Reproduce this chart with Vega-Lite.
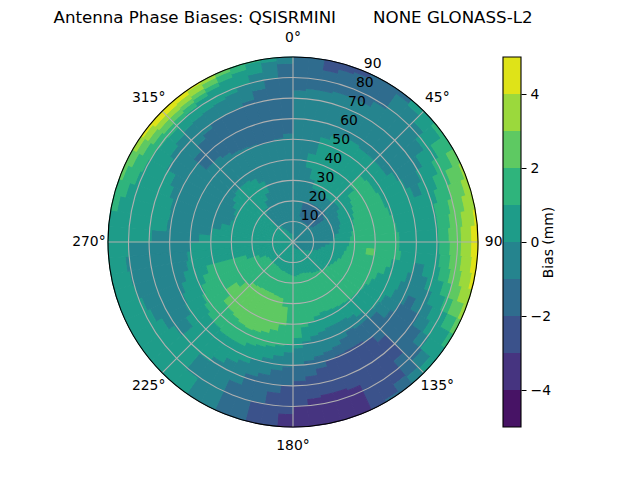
{"$schema":"https://vega.github.io/schema/vega-lite/v6.json","background":"white","padding":{"left":53,"top":10,"right":0,"bottom":0},"config":{"view":{"stroke":null},"font":"DejaVu Sans"},"bounds":"flush","spacing":25,"hconcat":[{"width":370,"height":370,"title":{"text":"Antenna Phase Biases: QSISRMINI\u00a0\u00a0\u00a0\u00a0\u00a0\u00a0\u00a0NONE GLONASS-L2","font":"DejaVu Sans","fontSize":16.67,"fontWeight":"normal","color":"black","anchor":"middle","offset":4},"layer":[{"data":{"values":[
{"a":0,"b":5,"r":0,"s":4,"v":0.5},{"a":0,"b":5,"r":4,"s":74,"v":-0.5},{"a":0,"b":5,"r":74,"s":90,"v":-1.5},
{"a":5,"b":10,"r":0,"s":75,"v":-0.5},{"a":5,"b":10,"r":75,"s":90,"v":-1.5},
{"a":10,"b":15,"r":0,"s":37,"v":-0.5},{"a":10,"b":15,"r":37,"s":44,"v":0.5},{"a":10,"b":15,"r":44,"s":75,"v":-0.5},{"a":10,"b":15,"r":75,"s":85,"v":-1.5},{"a":10,"b":15,"r":85,"s":90,"v":-2.5},
{"a":15,"b":20,"r":0,"s":13,"v":-0.5},{"a":15,"b":20,"r":13,"s":20,"v":-1.5},{"a":15,"b":20,"r":20,"s":32,"v":-0.5},{"a":15,"b":20,"r":32,"s":53,"v":0.5},{"a":15,"b":20,"r":53,"s":76,"v":-0.5},{"a":15,"b":20,"r":76,"s":87,"v":-1.5},{"a":15,"b":20,"r":87,"s":90,"v":-2.5},
{"a":20,"b":25,"r":0,"s":11,"v":-0.5},{"a":20,"b":25,"r":11,"s":21,"v":-1.5},{"a":20,"b":25,"r":21,"s":28,"v":-0.5},{"a":20,"b":25,"r":28,"s":55,"v":0.5},{"a":20,"b":25,"r":55,"s":76,"v":-0.5},{"a":20,"b":25,"r":76,"s":88,"v":-1.5},{"a":20,"b":25,"r":88,"s":90,"v":-2.5},
{"a":25,"b":30,"r":0,"s":11,"v":-0.5},{"a":25,"b":30,"r":11,"s":21,"v":-1.5},{"a":25,"b":30,"r":21,"s":28,"v":-0.5},{"a":25,"b":30,"r":28,"s":57,"v":0.5},{"a":25,"b":30,"r":57,"s":76,"v":-0.5},{"a":25,"b":30,"r":76,"s":90,"v":-1.5},
{"a":30,"b":35,"r":0,"s":11,"v":-0.5},{"a":30,"b":35,"r":11,"s":21,"v":-1.5},{"a":30,"b":35,"r":21,"s":28,"v":-0.5},{"a":30,"b":35,"r":28,"s":57,"v":0.5},{"a":30,"b":35,"r":57,"s":79,"v":-0.5},{"a":30,"b":35,"r":79,"s":90,"v":-1.5},
{"a":35,"b":40,"r":0,"s":11,"v":-0.5},{"a":35,"b":40,"r":11,"s":21,"v":-1.5},{"a":35,"b":40,"r":21,"s":27,"v":-0.5},{"a":35,"b":40,"r":27,"s":56,"v":0.5},{"a":35,"b":40,"r":56,"s":88,"v":-0.5},{"a":35,"b":40,"r":88,"s":90,"v":-1.5},
{"a":40,"b":45,"r":0,"s":11,"v":-0.5},{"a":40,"b":45,"r":11,"s":21,"v":-1.5},{"a":40,"b":45,"r":21,"s":27,"v":-0.5},{"a":40,"b":45,"r":27,"s":56,"v":0.5},{"a":40,"b":45,"r":56,"s":87,"v":-0.5},{"a":40,"b":45,"r":87,"s":90,"v":0.5},
{"a":45,"b":50,"r":0,"s":11,"v":-0.5},{"a":45,"b":50,"r":11,"s":21,"v":-1.5},{"a":45,"b":50,"r":21,"s":28,"v":-0.5},{"a":45,"b":50,"r":28,"s":39,"v":0.5},{"a":45,"b":50,"r":39,"s":46,"v":1.5},{"a":45,"b":50,"r":46,"s":56,"v":0.5},{"a":45,"b":50,"r":56,"s":83,"v":-0.5},{"a":45,"b":50,"r":83,"s":90,"v":0.5},
{"a":50,"b":55,"r":0,"s":12,"v":-0.5},{"a":50,"b":55,"r":12,"s":19,"v":-1.5},{"a":50,"b":55,"r":19,"s":28,"v":-0.5},{"a":50,"b":55,"r":28,"s":35,"v":0.5},{"a":50,"b":55,"r":35,"s":47,"v":1.5},{"a":50,"b":55,"r":47,"s":56,"v":0.5},{"a":50,"b":55,"r":56,"s":78,"v":-0.5},{"a":50,"b":55,"r":78,"s":88,"v":0.5},{"a":50,"b":55,"r":88,"s":90,"v":1.5},
{"a":55,"b":60,"r":0,"s":26,"v":-0.5},{"a":55,"b":60,"r":26,"s":34,"v":0.5},{"a":55,"b":60,"r":34,"s":47,"v":1.5},{"a":55,"b":60,"r":47,"s":59,"v":0.5},{"a":55,"b":60,"r":59,"s":73,"v":-0.5},{"a":55,"b":60,"r":73,"s":82,"v":0.5},{"a":55,"b":60,"r":82,"s":90,"v":1.5},
{"a":60,"b":65,"r":0,"s":25,"v":-0.5},{"a":60,"b":65,"r":25,"s":33,"v":0.5},{"a":60,"b":65,"r":33,"s":48,"v":1.5},{"a":60,"b":65,"r":48,"s":61,"v":0.5},{"a":60,"b":65,"r":61,"s":69,"v":-0.5},{"a":60,"b":65,"r":69,"s":78,"v":0.5},{"a":60,"b":65,"r":78,"s":86,"v":1.5},{"a":60,"b":65,"r":86,"s":90,"v":2.5},
{"a":65,"b":70,"r":0,"s":25,"v":-0.5},{"a":65,"b":70,"r":25,"s":32,"v":0.5},{"a":65,"b":70,"r":32,"s":48,"v":1.5},{"a":65,"b":70,"r":48,"s":63,"v":0.5},{"a":65,"b":70,"r":63,"s":67,"v":-0.5},{"a":65,"b":70,"r":67,"s":75,"v":0.5},{"a":65,"b":70,"r":75,"s":82,"v":1.5},{"a":65,"b":70,"r":82,"s":89,"v":2.5},{"a":65,"b":70,"r":89,"s":90,"v":3.5},
{"a":70,"b":75,"r":0,"s":24,"v":-0.5},{"a":70,"b":75,"r":24,"s":31,"v":0.5},{"a":70,"b":75,"r":31,"s":49,"v":1.5},{"a":70,"b":75,"r":49,"s":73,"v":0.5},{"a":70,"b":75,"r":73,"s":80,"v":1.5},{"a":70,"b":75,"r":80,"s":87,"v":2.5},{"a":70,"b":75,"r":87,"s":90,"v":3.5},
{"a":75,"b":80,"r":0,"s":23,"v":-0.5},{"a":75,"b":80,"r":23,"s":30,"v":0.5},{"a":75,"b":80,"r":30,"s":50,"v":1.5},{"a":75,"b":80,"r":50,"s":71,"v":0.5},{"a":75,"b":80,"r":71,"s":78,"v":1.5},{"a":75,"b":80,"r":78,"s":85,"v":2.5},{"a":75,"b":80,"r":85,"s":90,"v":3.5},
{"a":80,"b":85,"r":0,"s":21,"v":-0.5},{"a":80,"b":85,"r":21,"s":29,"v":0.5},{"a":80,"b":85,"r":29,"s":51,"v":1.5},{"a":80,"b":85,"r":51,"s":71,"v":0.5},{"a":80,"b":85,"r":71,"s":77,"v":1.5},{"a":80,"b":85,"r":77,"s":83,"v":2.5},{"a":80,"b":85,"r":83,"s":89,"v":3.5},{"a":80,"b":85,"r":89,"s":90,"v":4.5},
{"a":85,"b":90,"r":0,"s":20,"v":-0.5},{"a":85,"b":90,"r":20,"s":28,"v":0.5},{"a":85,"b":90,"r":28,"s":52,"v":1.5},{"a":85,"b":90,"r":52,"s":71,"v":0.5},{"a":85,"b":90,"r":71,"s":76,"v":1.5},{"a":85,"b":90,"r":76,"s":82,"v":2.5},{"a":85,"b":90,"r":82,"s":87,"v":3.5},{"a":85,"b":90,"r":87,"s":90,"v":4.5},
{"a":90,"b":95,"r":0,"s":18,"v":-0.5},{"a":90,"b":95,"r":18,"s":27.5,"v":0.5},{"a":90,"b":95,"r":27.5,"s":52,"v":1.5},{"a":90,"b":95,"r":52,"s":71.5,"v":0.5},{"a":90,"b":95,"r":71.5,"s":76.5,"v":1.5},{"a":90,"b":95,"r":76.5,"s":82,"v":2.5},{"a":90,"b":95,"r":82,"s":87,"v":3.5},{"a":90,"b":95,"r":87,"s":90,"v":4.5},
{"a":95,"b":100,"r":0,"s":16,"v":-0.5},{"a":95,"b":100,"r":16,"s":26.5,"v":0.5},{"a":95,"b":100,"r":26.5,"s":36,"v":1.5},{"a":95,"b":100,"r":36,"s":40,"v":2.5},{"a":95,"b":100,"r":40,"s":53,"v":1.5},{"a":95,"b":100,"r":53,"s":72,"v":0.5},{"a":95,"b":100,"r":72,"s":77,"v":1.5},{"a":95,"b":100,"r":77,"s":82.5,"v":2.5},{"a":95,"b":100,"r":82.5,"s":87.5,"v":3.5},{"a":95,"b":100,"r":87.5,"s":90,"v":4.5},
{"a":100,"b":105,"r":0,"s":14,"v":-0.5},{"a":100,"b":105,"r":14,"s":25.5,"v":0.5},{"a":100,"b":105,"r":25.5,"s":49,"v":1.5},{"a":100,"b":105,"r":49,"s":60,"v":0.5},{"a":100,"b":105,"r":60,"s":65,"v":-0.5},{"a":100,"b":105,"r":65,"s":73,"v":0.5},{"a":100,"b":105,"r":73,"s":78,"v":1.5},{"a":100,"b":105,"r":78,"s":83.5,"v":2.5},{"a":100,"b":105,"r":83.5,"s":88.5,"v":3.5},{"a":100,"b":105,"r":88.5,"s":90,"v":4.5},
{"a":105,"b":110,"r":0,"s":13,"v":-0.5},{"a":105,"b":110,"r":13,"s":25,"v":0.5},{"a":105,"b":110,"r":25,"s":47,"v":1.5},{"a":105,"b":110,"r":47,"s":58,"v":0.5},{"a":105,"b":110,"r":58,"s":68,"v":-0.5},{"a":105,"b":110,"r":68,"s":76,"v":0.5},{"a":105,"b":110,"r":76,"s":80,"v":1.5},{"a":105,"b":110,"r":80,"s":85,"v":2.5},{"a":105,"b":110,"r":85,"s":90,"v":3.5},
{"a":110,"b":115,"r":0,"s":11,"v":-0.5},{"a":110,"b":115,"r":11,"s":23.5,"v":0.5},{"a":110,"b":115,"r":23.5,"s":44,"v":1.5},{"a":110,"b":115,"r":44,"s":56,"v":0.5},{"a":110,"b":115,"r":56,"s":72,"v":-0.5},{"a":110,"b":115,"r":72,"s":79,"v":0.5},{"a":110,"b":115,"r":79,"s":83,"v":1.5},{"a":110,"b":115,"r":83,"s":88.5,"v":2.5},{"a":110,"b":115,"r":88.5,"s":90,"v":3.5},
{"a":115,"b":120,"r":0,"s":9.5,"v":-0.5},{"a":115,"b":120,"r":9.5,"s":22.5,"v":0.5},{"a":115,"b":120,"r":22.5,"s":42.5,"v":1.5},{"a":115,"b":120,"r":42.5,"s":55,"v":0.5},{"a":115,"b":120,"r":55,"s":62,"v":-0.5},{"a":115,"b":120,"r":62,"s":66,"v":-1.5},{"a":115,"b":120,"r":66,"s":75,"v":-0.5},{"a":115,"b":120,"r":75,"s":83,"v":0.5},{"a":115,"b":120,"r":83,"s":88,"v":1.5},{"a":115,"b":120,"r":88,"s":90,"v":2.5},
{"a":120,"b":125,"r":0,"s":8,"v":-0.5},{"a":120,"b":125,"r":8,"s":21.5,"v":0.5},{"a":120,"b":125,"r":21.5,"s":41,"v":1.5},{"a":120,"b":125,"r":41,"s":52,"v":0.5},{"a":120,"b":125,"r":52,"s":60,"v":-0.5},{"a":120,"b":125,"r":60,"s":71,"v":-1.5},{"a":120,"b":125,"r":71,"s":77,"v":-0.5},{"a":120,"b":125,"r":77,"s":88,"v":0.5},{"a":120,"b":125,"r":88,"s":90,"v":1.5},
{"a":125,"b":130,"r":0,"s":7,"v":-0.5},{"a":125,"b":130,"r":7,"s":20.5,"v":0.5},{"a":125,"b":130,"r":20.5,"s":40,"v":1.5},{"a":125,"b":130,"r":40,"s":51,"v":0.5},{"a":125,"b":130,"r":51,"s":58,"v":-0.5},{"a":125,"b":130,"r":58,"s":76,"v":-1.5},{"a":125,"b":130,"r":76,"s":81,"v":-0.5},{"a":125,"b":130,"r":81,"s":90,"v":0.5},
{"a":130,"b":135,"r":0,"s":6,"v":-0.5},{"a":130,"b":135,"r":6,"s":20,"v":0.5},{"a":130,"b":135,"r":20,"s":39.5,"v":1.5},{"a":130,"b":135,"r":39.5,"s":50,"v":0.5},{"a":130,"b":135,"r":50,"s":53,"v":-0.5},{"a":130,"b":135,"r":53,"s":82,"v":-1.5},{"a":130,"b":135,"r":82,"s":87,"v":-0.5},{"a":130,"b":135,"r":87,"s":90,"v":0.5},
{"a":135,"b":140,"r":0,"s":5,"v":-0.5},{"a":135,"b":140,"r":5,"s":19,"v":0.5},{"a":135,"b":140,"r":19,"s":39,"v":1.5},{"a":135,"b":140,"r":39,"s":48,"v":0.5},{"a":135,"b":140,"r":48,"s":52,"v":-0.5},{"a":135,"b":140,"r":52,"s":64,"v":-1.5},{"a":135,"b":140,"r":64,"s":76,"v":-2.5},{"a":135,"b":140,"r":76,"s":86,"v":-1.5},{"a":135,"b":140,"r":86,"s":90,"v":-0.5},
{"a":140,"b":145,"r":0,"s":5,"v":-0.5},{"a":140,"b":145,"r":5,"s":18.5,"v":0.5},{"a":140,"b":145,"r":18.5,"s":38.5,"v":1.5},{"a":140,"b":145,"r":38.5,"s":46,"v":0.5},{"a":140,"b":145,"r":46,"s":52,"v":-0.5},{"a":140,"b":145,"r":52,"s":60,"v":-1.5},{"a":140,"b":145,"r":60,"s":85,"v":-2.5},{"a":140,"b":145,"r":85,"s":90,"v":-1.5},
{"a":145,"b":150,"r":0,"s":4.5,"v":-0.5},{"a":145,"b":150,"r":4.5,"s":18,"v":0.5},{"a":145,"b":150,"r":18,"s":38,"v":1.5},{"a":145,"b":150,"r":38,"s":45,"v":0.5},{"a":145,"b":150,"r":45,"s":51,"v":-0.5},{"a":145,"b":150,"r":51,"s":59,"v":-1.5},{"a":145,"b":150,"r":59,"s":89,"v":-2.5},{"a":145,"b":150,"r":89,"s":90,"v":-1.5},
{"a":150,"b":155,"r":0,"s":4,"v":-0.5},{"a":150,"b":155,"r":4,"s":17,"v":0.5},{"a":150,"b":155,"r":17,"s":37.5,"v":1.5},{"a":150,"b":155,"r":37.5,"s":45,"v":0.5},{"a":150,"b":155,"r":45,"s":53,"v":-0.5},{"a":150,"b":155,"r":53,"s":59,"v":-1.5},{"a":150,"b":155,"r":59,"s":90,"v":-2.5},
{"a":155,"b":160,"r":0,"s":4,"v":-0.5},{"a":155,"b":160,"r":4,"s":16.5,"v":0.5},{"a":155,"b":160,"r":16.5,"s":37,"v":1.5},{"a":155,"b":160,"r":37,"s":45,"v":0.5},{"a":155,"b":160,"r":45,"s":55,"v":-0.5},{"a":155,"b":160,"r":55,"s":59.5,"v":-1.5},{"a":155,"b":160,"r":59.5,"s":77,"v":-2.5},{"a":155,"b":160,"r":77,"s":90,"v":-3.5},
{"a":160,"b":165,"r":0,"s":3.5,"v":-0.5},{"a":160,"b":165,"r":3.5,"s":16,"v":0.5},{"a":160,"b":165,"r":16,"s":38,"v":1.5},{"a":160,"b":165,"r":38,"s":46,"v":0.5},{"a":160,"b":165,"r":46,"s":56,"v":-0.5},{"a":160,"b":165,"r":56,"s":60,"v":-1.5},{"a":160,"b":165,"r":60,"s":76,"v":-2.5},{"a":160,"b":165,"r":76,"s":90,"v":-3.5},
{"a":165,"b":170,"r":0,"s":3,"v":-0.5},{"a":165,"b":170,"r":3,"s":16,"v":0.5},{"a":165,"b":170,"r":16,"s":40,"v":1.5},{"a":165,"b":170,"r":40,"s":47,"v":0.5},{"a":165,"b":170,"r":47,"s":57,"v":-0.5},{"a":165,"b":170,"r":57,"s":63,"v":-1.5},{"a":165,"b":170,"r":63,"s":76,"v":-2.5},{"a":165,"b":170,"r":76,"s":90,"v":-3.5},
{"a":170,"b":175,"r":0,"s":3,"v":-0.5},{"a":170,"b":175,"r":3,"s":16.5,"v":0.5},{"a":170,"b":175,"r":16.5,"s":42,"v":1.5},{"a":170,"b":175,"r":42,"s":49,"v":0.5},{"a":170,"b":175,"r":49,"s":58.5,"v":-0.5},{"a":170,"b":175,"r":58.5,"s":66,"v":-1.5},{"a":170,"b":175,"r":66,"s":77,"v":-2.5},{"a":170,"b":175,"r":77,"s":90,"v":-3.5},
{"a":175,"b":180,"r":0,"s":3,"v":-0.5},{"a":175,"b":180,"r":3,"s":17,"v":0.5},{"a":175,"b":180,"r":17,"s":47,"v":1.5},{"a":175,"b":180,"r":47,"s":52,"v":0.5},{"a":175,"b":180,"r":52,"s":60,"v":-0.5},{"a":175,"b":180,"r":60,"s":68,"v":-1.5},{"a":175,"b":180,"r":68,"s":80,"v":-2.5},{"a":175,"b":180,"r":80,"s":90,"v":-3.5},
{"a":180,"b":185,"r":0,"s":16.5,"v":0.5},{"a":180,"b":185,"r":16.5,"s":50,"v":1.5},{"a":180,"b":185,"r":50,"s":54,"v":0.5},{"a":180,"b":185,"r":54,"s":61,"v":-0.5},{"a":180,"b":185,"r":61,"s":70,"v":-1.5},{"a":180,"b":185,"r":70,"s":84,"v":-2.5},{"a":180,"b":185,"r":84,"s":90,"v":-3.5},
{"a":185,"b":190,"r":0,"s":16,"v":0.5},{"a":185,"b":190,"r":16,"s":32,"v":1.5},{"a":185,"b":190,"r":32,"s":41,"v":2.5},{"a":185,"b":190,"r":41,"s":51,"v":1.5},{"a":185,"b":190,"r":51,"s":56,"v":0.5},{"a":185,"b":190,"r":56,"s":63,"v":-0.5},{"a":185,"b":190,"r":63,"s":74,"v":-1.5},{"a":185,"b":190,"r":74,"s":90,"v":-2.5},
{"a":190,"b":195,"r":0,"s":15.5,"v":0.5},{"a":190,"b":195,"r":15.5,"s":28,"v":1.5},{"a":190,"b":195,"r":28,"s":44,"v":2.5},{"a":190,"b":195,"r":44,"s":52,"v":1.5},{"a":190,"b":195,"r":52,"s":58,"v":0.5},{"a":190,"b":195,"r":58,"s":66,"v":-0.5},{"a":190,"b":195,"r":66,"s":80,"v":-1.5},{"a":190,"b":195,"r":80,"s":90,"v":-2.5},
{"a":195,"b":200,"r":0,"s":15,"v":0.5},{"a":195,"b":200,"r":15,"s":27.5,"v":1.5},{"a":195,"b":200,"r":27.5,"s":46,"v":2.5},{"a":195,"b":200,"r":46,"s":53,"v":1.5},{"a":195,"b":200,"r":53,"s":60,"v":0.5},{"a":195,"b":200,"r":60,"s":68,"v":-0.5},{"a":195,"b":200,"r":68,"s":90,"v":-1.5},
{"a":200,"b":205,"r":0,"s":15,"v":0.5},{"a":200,"b":205,"r":15,"s":27,"v":1.5},{"a":200,"b":205,"r":27,"s":47,"v":2.5},{"a":200,"b":205,"r":47,"s":54,"v":1.5},{"a":200,"b":205,"r":54,"s":63,"v":0.5},{"a":200,"b":205,"r":63,"s":74,"v":-0.5},{"a":200,"b":205,"r":74,"s":90,"v":-1.5},
{"a":205,"b":210,"r":0,"s":14.5,"v":0.5},{"a":205,"b":210,"r":14.5,"s":27,"v":1.5},{"a":205,"b":210,"r":27,"s":47.5,"v":2.5},{"a":205,"b":210,"r":47.5,"s":56,"v":1.5},{"a":205,"b":210,"r":56,"s":65,"v":0.5},{"a":205,"b":210,"r":65,"s":90,"v":-0.5},
{"a":210,"b":215,"r":0,"s":14,"v":0.5},{"a":210,"b":215,"r":14,"s":27,"v":1.5},{"a":210,"b":215,"r":27,"s":47,"v":2.5},{"a":210,"b":215,"r":47,"s":56,"v":1.5},{"a":210,"b":215,"r":56,"s":68,"v":0.5},{"a":210,"b":215,"r":68,"s":90,"v":-0.5},
{"a":215,"b":220,"r":0,"s":14,"v":0.5},{"a":215,"b":220,"r":14,"s":27.5,"v":1.5},{"a":215,"b":220,"r":27.5,"s":46,"v":2.5},{"a":215,"b":220,"r":46,"s":56,"v":1.5},{"a":215,"b":220,"r":56,"s":71,"v":0.5},{"a":215,"b":220,"r":71,"s":81,"v":-0.5},{"a":215,"b":220,"r":81,"s":90,"v":0.5},
{"a":220,"b":225,"r":0,"s":14,"v":0.5},{"a":220,"b":225,"r":14,"s":28,"v":1.5},{"a":220,"b":225,"r":28,"s":45,"v":2.5},{"a":220,"b":225,"r":45,"s":55,"v":1.5},{"a":220,"b":225,"r":55,"s":90,"v":0.5},
{"a":225,"b":230,"r":0,"s":14,"v":0.5},{"a":225,"b":230,"r":14,"s":30,"v":1.5},{"a":225,"b":230,"r":30,"s":44.5,"v":2.5},{"a":225,"b":230,"r":44.5,"s":54.5,"v":1.5},{"a":225,"b":230,"r":54.5,"s":90,"v":0.5},
{"a":230,"b":235,"r":0,"s":14,"v":0.5},{"a":230,"b":235,"r":14,"s":34,"v":1.5},{"a":230,"b":235,"r":34,"s":40,"v":2.5},{"a":230,"b":235,"r":40,"s":53,"v":1.5},{"a":230,"b":235,"r":53,"s":64,"v":0.5},{"a":230,"b":235,"r":64,"s":71,"v":-0.5},{"a":230,"b":235,"r":71,"s":90,"v":0.5},
{"a":235,"b":240,"r":0,"s":14,"v":0.5},{"a":235,"b":240,"r":14,"s":51.5,"v":1.5},{"a":235,"b":240,"r":51.5,"s":61,"v":0.5},{"a":235,"b":240,"r":61,"s":74,"v":-0.5},{"a":235,"b":240,"r":74,"s":90,"v":0.5},
{"a":240,"b":245,"r":0,"s":15,"v":0.5},{"a":240,"b":245,"r":15,"s":49.5,"v":1.5},{"a":240,"b":245,"r":49.5,"s":59.5,"v":0.5},{"a":240,"b":245,"r":59.5,"s":77,"v":-0.5},{"a":240,"b":245,"r":77,"s":90,"v":0.5},
{"a":245,"b":250,"r":0,"s":18,"v":0.5},{"a":245,"b":250,"r":18,"s":47,"v":1.5},{"a":245,"b":250,"r":47,"s":58,"v":0.5},{"a":245,"b":250,"r":58,"s":78.5,"v":-0.5},{"a":245,"b":250,"r":78.5,"s":90,"v":0.5},
{"a":250,"b":255,"r":0,"s":24,"v":0.5},{"a":250,"b":255,"r":24,"s":44,"v":1.5},{"a":250,"b":255,"r":44,"s":55.5,"v":0.5},{"a":250,"b":255,"r":55.5,"s":80,"v":-0.5},{"a":250,"b":255,"r":80,"s":90,"v":0.5},
{"a":255,"b":260,"r":0,"s":53,"v":0.5},{"a":255,"b":260,"r":53,"s":81,"v":-0.5},{"a":255,"b":260,"r":81,"s":90,"v":0.5},
{"a":260,"b":265,"r":0,"s":52,"v":0.5},{"a":260,"b":265,"r":52,"s":82,"v":-0.5},{"a":260,"b":265,"r":82,"s":90,"v":0.5},
{"a":265,"b":270,"r":0,"s":50,"v":0.5},{"a":265,"b":270,"r":50,"s":80,"v":-0.5},{"a":265,"b":270,"r":80,"s":90,"v":0.5},
{"a":270,"b":275,"r":0,"s":46,"v":0.5},{"a":270,"b":275,"r":46,"s":69,"v":-0.5},{"a":270,"b":275,"r":69,"s":90,"v":0.5},
{"a":275,"b":280,"r":0,"s":40,"v":0.5},{"a":275,"b":280,"r":40,"s":62,"v":-0.5},{"a":275,"b":280,"r":62,"s":90,"v":0.5},
{"a":280,"b":285,"r":0,"s":36,"v":0.5},{"a":280,"b":285,"r":36,"s":61.5,"v":-0.5},{"a":280,"b":285,"r":61.5,"s":87,"v":0.5},{"a":280,"b":285,"r":87,"s":90,"v":1.5},
{"a":285,"b":290,"r":0,"s":32,"v":0.5},{"a":285,"b":290,"r":32,"s":62,"v":-0.5},{"a":285,"b":290,"r":62,"s":84.5,"v":0.5},{"a":285,"b":290,"r":84.5,"s":90,"v":1.5},
{"a":290,"b":295,"r":0,"s":31,"v":0.5},{"a":290,"b":295,"r":31,"s":64,"v":-0.5},{"a":290,"b":295,"r":64,"s":82,"v":0.5},{"a":290,"b":295,"r":82,"s":88.5,"v":1.5},{"a":290,"b":295,"r":88.5,"s":90,"v":2.5},
{"a":295,"b":300,"r":0,"s":32,"v":0.5},{"a":295,"b":300,"r":32,"s":66,"v":-0.5},{"a":295,"b":300,"r":66,"s":81,"v":0.5},{"a":295,"b":300,"r":81,"s":86.5,"v":1.5},{"a":295,"b":300,"r":86.5,"s":90,"v":2.5},
{"a":300,"b":305,"r":0,"s":34,"v":0.5},{"a":300,"b":305,"r":34,"s":71,"v":-0.5},{"a":300,"b":305,"r":71,"s":80,"v":0.5},{"a":300,"b":305,"r":80,"s":84.5,"v":1.5},{"a":300,"b":305,"r":84.5,"s":88,"v":2.5},{"a":300,"b":305,"r":88,"s":90,"v":3.5},
{"a":305,"b":310,"r":0,"s":36,"v":0.5},{"a":305,"b":310,"r":36,"s":73,"v":-0.5},{"a":305,"b":310,"r":73,"s":79.5,"v":0.5},{"a":305,"b":310,"r":79.5,"s":83,"v":1.5},{"a":305,"b":310,"r":83,"s":86,"v":2.5},{"a":305,"b":310,"r":86,"s":89,"v":3.5},{"a":305,"b":310,"r":89,"s":90,"v":4.5},
{"a":310,"b":315,"r":0,"s":37,"v":0.5},{"a":310,"b":315,"r":37,"s":55,"v":-0.5},{"a":310,"b":315,"r":55,"s":63,"v":-1.5},{"a":310,"b":315,"r":63,"s":74.5,"v":-0.5},{"a":310,"b":315,"r":74.5,"s":79,"v":0.5},{"a":310,"b":315,"r":79,"s":82,"v":1.5},{"a":310,"b":315,"r":82,"s":85,"v":2.5},{"a":310,"b":315,"r":85,"s":87.5,"v":3.5},{"a":310,"b":315,"r":87.5,"s":90,"v":4.5},
{"a":315,"b":320,"r":0,"s":11,"v":0.5},{"a":315,"b":320,"r":11,"s":19,"v":-0.5},{"a":315,"b":320,"r":19,"s":37,"v":0.5},{"a":315,"b":320,"r":37,"s":55,"v":-0.5},{"a":315,"b":320,"r":55,"s":66,"v":-1.5},{"a":315,"b":320,"r":66,"s":75.5,"v":-0.5},{"a":315,"b":320,"r":75.5,"s":80,"v":0.5},{"a":315,"b":320,"r":80,"s":82.5,"v":1.5},{"a":315,"b":320,"r":82.5,"s":85,"v":2.5},{"a":315,"b":320,"r":85,"s":87.5,"v":3.5},{"a":315,"b":320,"r":87.5,"s":90,"v":4.5},
{"a":320,"b":325,"r":0,"s":10,"v":0.5},{"a":320,"b":325,"r":10,"s":21,"v":-0.5},{"a":320,"b":325,"r":21,"s":37,"v":0.5},{"a":320,"b":325,"r":37,"s":53.5,"v":-0.5},{"a":320,"b":325,"r":53.5,"s":68,"v":-1.5},{"a":320,"b":325,"r":68,"s":76,"v":-0.5},{"a":320,"b":325,"r":76,"s":81,"v":0.5},{"a":320,"b":325,"r":81,"s":83.5,"v":1.5},{"a":320,"b":325,"r":83.5,"s":85.5,"v":2.5},{"a":320,"b":325,"r":85.5,"s":88,"v":3.5},{"a":320,"b":325,"r":88,"s":90,"v":4.5},
{"a":325,"b":330,"r":0,"s":8,"v":0.5},{"a":325,"b":330,"r":8,"s":24,"v":-0.5},{"a":325,"b":330,"r":24,"s":36,"v":0.5},{"a":325,"b":330,"r":36,"s":52,"v":-0.5},{"a":325,"b":330,"r":52,"s":70,"v":-1.5},{"a":325,"b":330,"r":70,"s":76.5,"v":-0.5},{"a":325,"b":330,"r":76.5,"s":82.5,"v":0.5},{"a":325,"b":330,"r":82.5,"s":84.5,"v":1.5},{"a":325,"b":330,"r":84.5,"s":86.5,"v":2.5},{"a":325,"b":330,"r":86.5,"s":89.5,"v":3.5},{"a":325,"b":330,"r":89.5,"s":90,"v":4.5},
{"a":330,"b":335,"r":0,"s":7,"v":0.5},{"a":330,"b":335,"r":7,"s":27,"v":-0.5},{"a":330,"b":335,"r":27,"s":33,"v":0.5},{"a":330,"b":335,"r":33,"s":51.5,"v":-0.5},{"a":330,"b":335,"r":51.5,"s":70,"v":-1.5},{"a":330,"b":335,"r":70,"s":77,"v":-0.5},{"a":330,"b":335,"r":77,"s":84,"v":0.5},{"a":330,"b":335,"r":84,"s":86,"v":1.5},{"a":330,"b":335,"r":86,"s":88.5,"v":2.5},{"a":330,"b":335,"r":88.5,"s":90,"v":3.5},
{"a":335,"b":340,"r":0,"s":6,"v":0.5},{"a":335,"b":340,"r":6,"s":51,"v":-0.5},{"a":335,"b":340,"r":51,"s":70.5,"v":-1.5},{"a":335,"b":340,"r":70.5,"s":78,"v":-0.5},{"a":335,"b":340,"r":78,"s":85.5,"v":0.5},{"a":335,"b":340,"r":85.5,"s":88.5,"v":1.5},{"a":335,"b":340,"r":88.5,"s":90,"v":2.5},
{"a":340,"b":345,"r":0,"s":5,"v":0.5},{"a":340,"b":345,"r":5,"s":50,"v":-0.5},{"a":340,"b":345,"r":50,"s":72,"v":-1.5},{"a":340,"b":345,"r":72,"s":80,"v":-0.5},{"a":340,"b":345,"r":80,"s":87,"v":0.5},{"a":340,"b":345,"r":87,"s":90,"v":1.5},
{"a":345,"b":350,"r":0,"s":4.5,"v":0.5},{"a":345,"b":350,"r":4.5,"s":50,"v":-0.5},{"a":345,"b":350,"r":50,"s":76,"v":-1.5},{"a":345,"b":350,"r":76,"s":84,"v":-0.5},{"a":345,"b":350,"r":84,"s":89.5,"v":0.5},{"a":345,"b":350,"r":89.5,"s":90,"v":1.5},
{"a":350,"b":355,"r":0,"s":4.5,"v":0.5},{"a":350,"b":355,"r":4.5,"s":51,"v":-0.5},{"a":350,"b":355,"r":51,"s":80,"v":-1.5},{"a":350,"b":355,"r":80,"s":88.5,"v":-0.5},{"a":350,"b":355,"r":88.5,"s":90,"v":0.5},
{"a":355,"b":360,"r":0,"s":4,"v":0.5},{"a":355,"b":360,"r":4,"s":53,"v":-0.5},{"a":355,"b":360,"r":53,"s":87,"v":-1.5},{"a":355,"b":360,"r":87,"s":90,"v":-0.5}
]},"mark":{"type":"arc","strokeWidth":1},"encoding":{"theta":{"field":"a","type":"quantitative","stack":null,"scale":{"domain":[0,360],"range":[0,6.283185307]}},"theta2":{"field":"b"},"radius":{"field":"s","type":"quantitative","scale":{"type":"linear","domain":[0,90],"range":[0,185]}},"radius2":{"field":"r"},"fill":{"field":"v","type":"quantitative","legend":null,"scale":{"type":"threshold","domain":[-4,-3,-2,-1,0,1,2,3,4],"range":["#471365","#463480","#3b528b","#2f6c8e","#25848e","#1e9c89","#2fb47c","#5ec962","#9bd93c","#dfe318"]}},"stroke":{"field":"v","type":"quantitative","legend":null,"scale":{"type":"threshold","domain":[-4,-3,-2,-1,0,1,2,3,4],"range":["#471365","#463480","#3b528b","#2f6c8e","#25848e","#1e9c89","#2fb47c","#5ec962","#9bd93c","#dfe318"]}}}},
{"data":{"values":[{"a":0,"b":360,"r":10,"s":10},{"a":0,"b":360,"r":20,"s":20},{"a":0,"b":360,"r":30,"s":30},{"a":0,"b":360,"r":40,"s":40},{"a":0,"b":360,"r":50,"s":50},{"a":0,"b":360,"r":60,"s":60},{"a":0,"b":360,"r":70,"s":70},{"a":0,"b":360,"r":80,"s":80},{"a":0,"b":0,"r":0,"s":90},{"a":45,"b":45,"r":0,"s":90},{"a":90,"b":90,"r":0,"s":90},{"a":135,"b":135,"r":0,"s":90},{"a":180,"b":180,"r":0,"s":90},{"a":225,"b":225,"r":0,"s":90},{"a":270,"b":270,"r":0,"s":90},{"a":315,"b":315,"r":0,"s":90}]},"mark":{"type":"arc","fillOpacity":0,"stroke":"#b0b0b0","strokeWidth":1.1},"encoding":{"theta":{"field":"a","type":"quantitative","stack":null},"theta2":{"field":"b"},"radius":{"field":"s","type":"quantitative"},"radius2":{"field":"r"}}},
{"data":{"values":[{"a":0,"b":360,"r":90,"s":90}]},"mark":{"type":"arc","fillOpacity":0,"stroke":"black","strokeWidth":1.1},"encoding":{"theta":{"field":"a","type":"quantitative","stack":null},"theta2":{"field":"b"},"radius":{"field":"s","type":"quantitative"},"radius2":{"field":"r"}}},
{"data":{"values":[{"a":0,"s":99.3,"t":"0°"},{"a":45,"s":99.3,"t":"45°"},{"a":90,"s":99.3,"t":"90°"},{"a":135,"s":99.3,"t":"135°"},{"a":180,"s":99.3,"t":"180°"},{"a":225,"s":99.3,"t":"225°"},{"a":270,"s":99.3,"t":"270°"},{"a":315,"s":99.3,"t":"315°"}]},"mark":{"type":"text","font":"DejaVu Sans","fontSize":13.9,"color":"black","align":"center","baseline":"middle"},"encoding":{"theta":{"field":"a","type":"quantitative","stack":null},"radius":{"field":"s","type":"quantitative"},"text":{"field":"t"}}},
{"data":{"values":[{"a":22.5,"s":10,"t":"10"},{"a":22.5,"s":20,"t":"20"},{"a":22.5,"s":30,"t":"30"},{"a":22.5,"s":40,"t":"40"},{"a":22.5,"s":50,"t":"50"},{"a":22.5,"s":60,"t":"60"},{"a":22.5,"s":70,"t":"70"},{"a":22.5,"s":80,"t":"80"},{"a":22.5,"s":90,"t":"90"}]},"mark":{"type":"text","font":"DejaVu Sans","fontSize":13.9,"color":"black","align":"left","baseline":"bottom"},"encoding":{"theta":{"field":"a","type":"quantitative","stack":null},"radius":{"field":"s","type":"quantitative"},"text":{"field":"t"}}}
]},
{"width":18,"height":370,"layer":[{"data":{"values":[{"lo":-5,"hi":-4,"v":-4.5},{"lo":-4,"hi":-3,"v":-3.5},{"lo":-3,"hi":-2,"v":-2.5},{"lo":-2,"hi":-1,"v":-1.5},{"lo":-1,"hi":0,"v":-0.5},{"lo":0,"hi":1,"v":0.5},{"lo":1,"hi":2,"v":1.5},{"lo":2,"hi":3,"v":2.5},{"lo":3,"hi":4,"v":3.5},{"lo":4,"hi":5,"v":4.5}]},"mark":{"type":"rect"},"encoding":{"y":{"field":"lo","type":"quantitative","scale":{"domain":[-5,5],"nice":false,"zero":false},"axis":{"orient":"right","values":[-4,-2,0,2,4],"labelExpr":"datum.value<0 ? '\u2212'+abs(datum.value) : ''+datum.value","title":"Bias (mm)","titleAngle":270,"titleFont":"DejaVu Sans","titleFontSize":13.9,"titleFontWeight":"normal","titleColor":"black","labelFont":"DejaVu Sans","labelFontSize":13.9,"labelColor":"black","tickColor":"black","tickSize":5,"domain":false,"grid":false,"labelPadding":4,"titlePadding":5}},"y2":{"field":"hi"},"color":{"field":"v","type":"quantitative","legend":null,"scale":{"type":"threshold","domain":[-4,-3,-2,-1,0,1,2,3,4],"range":["#471365","#463480","#3b528b","#2f6c8e","#25848e","#1e9c89","#2fb47c","#5ec962","#9bd93c","#dfe318"]}}}},
{"data":{"values":[{"lo":-5,"hi":5}]},"mark":{"type":"rect","fillOpacity":0,"stroke":"black","strokeWidth":1.1},"encoding":{"y":{"field":"lo","type":"quantitative"},"y2":{"field":"hi"}}}
]}
]}
